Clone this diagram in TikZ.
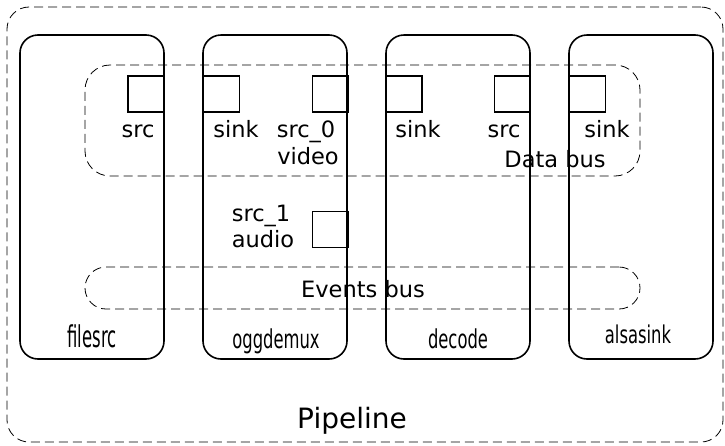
\documentclass[tikz,border=0pt]{standalone}
\usepackage{fontspec}
\setmainfont{DejaVu Sans}
\usetikzlibrary{positioning}
% condensed element names: #1 horizontal scale, #2 font size, #3 text
\newcommand{\elemname}[3]{\fontsize{#2}{#2}\selectfont\scalebox{#1}[1]{#3}}
\tikzset{
    element/.style={draw, line width=1.6pt, rounded corners=18pt, minimum width=144pt, minimum height=324pt}, % the boxes of the elements
    padbox/.style={draw, line width=1.6pt, minimum size=36pt}, % the pads
    bus/.style={draw, dashed, dash pattern=on 9pt off 5pt, line width=0.8pt}, % pipeline and buses
    padtext/.style={anchor=base, inner sep=0pt, font=\fontsize{22.5}{27}\selectfont},
    elemtext/.style={anchor=base, inner sep=0pt},
    node distance=183pt, % distance between the elements
}
\begin{document}
\begin{tikzpicture}[x=1pt, y=-1pt]
    \useasboundingbox (0,0) rectangle (725,445);
    \node[bus, rounded corners=22pt, minimum width=716pt, minimum height=435pt] (pipeline) at (365,224.5) {};
    \node[padtext, font=\fontsize{28}{34}\selectfont] (pipelinetext) at (352,428) {Pipeline};
    % elements
    \node[element] (filesrc) at (92,197) {};
    \node[element, right of=filesrc] (oggdemux) {};
    \node[element, right of=oggdemux] (decode) {};
    \node[element, right of=decode] (alsasink) {};
    \node[elemtext] (filesrctext) at (92,347) {\elemname{0.55}{30}{filesrc}};
    \node[elemtext] (oggdemuxtext) at (276,348) {\elemname{0.63}{26}{oggdemux}};
    \node[elemtext] (decodetext) at (458,348) {\elemname{0.63}{26}{decode}};
    \node[elemtext] (alsasinktext) at (638,343) {\elemname{0.67}{24.5}{alsasink}};
    % buses
    \node[bus, rounded corners=25pt, minimum width=555pt, minimum height=111pt] (databus) at (362.5,120.5) {};
    \node[bus, rounded corners=21pt, minimum width=555pt, minimum height=42pt] (eventsbus) at (362.5,288) {};
    \node[padtext] (databustext) at (555,167) {Data bus};
    \node[padtext] (eventsbustext) at (363,297) {Events bus};
    % pads
    \node[padbox] (filesrcsrc) at (146,94) {};
    \node[padbox] (oggdemuxsink) at (221.5,94) {};
    \node[padbox] (oggdemuxsrc0) at (330.5,94) {};
    \node[padbox] (oggdemuxsrc1) at (330.5,229.5) {};
    \node[padbox] (decodesink) at (404,94) {};
    \node[padbox] (decodesrc) at (512.5,94) {};
    \node[padbox] (alsasinksink) at (587.5,94) {};
    \node[padtext] (filesrcsrctext) at (138,137) {src};
    \node[padtext] (oggdemuxsinktext) at (236,137) {sink};
    \node[padtext] (oggdemuxsrc0text) at (306,137) {src\_0};
    \node[padtext] (videotext) at (308,164) {video};
    \node[padtext] (oggdemuxsrc1text) at (261,221) {src\_1};
    \node[padtext] (audiotext) at (263,247) {audio};
    \node[padtext] (decodesinktext) at (418,137) {sink};
    \node[padtext] (decodesrctext) at (504,137) {src};
    \node[padtext] (alsasinksinktext) at (607,137) {sink};
\end{tikzpicture}
\end{document}
